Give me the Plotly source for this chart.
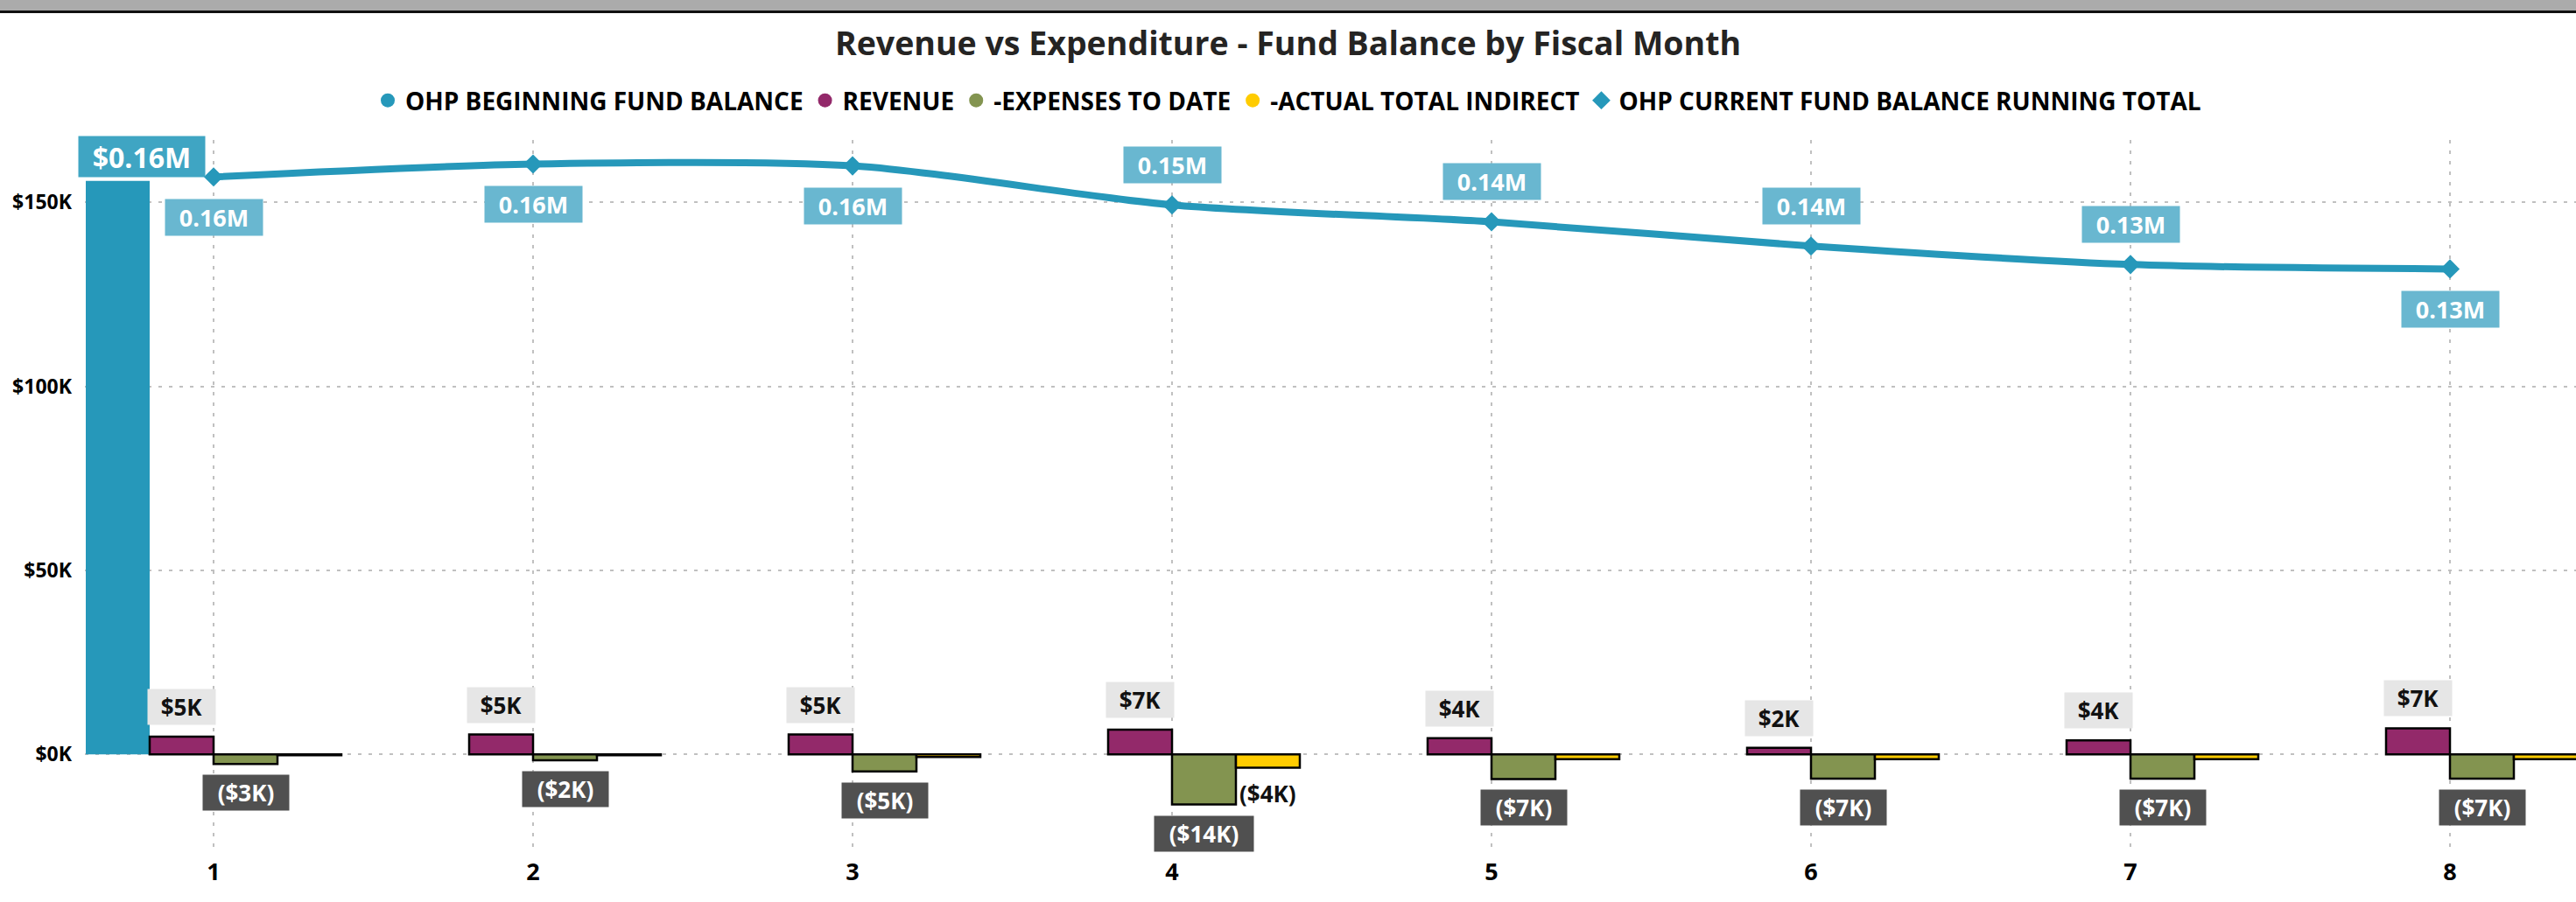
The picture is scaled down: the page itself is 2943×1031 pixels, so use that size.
import plotly.graph_objects as go

# ---------------- data ----------------
months = [1, 2, 3, 4, 5, 6, 7, 8]
month_labels = ["1", "2", "3", "4", "5", "6", "7", "8"]
beginning_balance = [155800, None, None, None, None, None, None, None]
revenue = [4800, 5400, 5400, 6700, 4400, 1800, 3800, 7100]
expenses = [-2600, -1600, -4600, -13600, -6700, -6600, -6600, -6600]
indirect = [-200, -200, -700, -3600, -1300, -1300, -1300, -1300]
running_total = [156900, 160400, 159900, 149300, 144700, 138100, 133100, 131900]
line_label_side = ["below", "below", "below", "above", "above", "above", "above", "below"]
y_tick_vals = [0, 50000, 100000, 150000]
y_tick_text = ["$0K", "$50K", "$100K", "$150K"]

series_names = ["OHP BEGINNING FUND BALANCE", "REVENUE", "-EXPENSES TO DATE",
                "-ACTUAL TOTAL INDIRECT", "OHP CURRENT FUND BALANCE RUNNING TOTAL"]
title_text = "Revenue vs Expenditure - Fund Balance by Fiscal Month"

# ---------------- style ----------------
FONT = "Open Sans"
C_BLUE = "#2698BA"
C_REV = "#93296A"
C_EXP = "#839450"
C_IND = "#FFCC00"
C_LINE_LBL = "#69B7D0"
C_BEGIN_LBL = "#3FA5C3"
GRID = "#C0C0C0"

W, H = 2943, 1031
ML, MR, MT, MB = 97, 0, 160, 61

BARGAP = 0.2
n_bar_traces = 4
slot = (1 - BARGAP) / n_bar_traces
offsets = [-(1 - BARGAP) / 2 + slot * (i + 0.5) for i in range(n_bar_traces)]

fig = go.Figure()

bar_series = [beginning_balance, revenue, expenses, indirect]
bar_colors = [C_BLUE, C_REV, C_EXP, C_IND]
bar_line_w = [0, 2.5, 2.5, 2.5]
for vals, col, lw, name in zip(bar_series, bar_colors, bar_line_w, series_names[:4]):
    fig.add_trace(go.Bar(x=months, y=vals, name=name, marker=dict(color=col, line=dict(color="black", width=lw)),
                         showlegend=False, hoverinfo="skip"))

fig.add_trace(go.Scatter(x=months, y=running_total, mode="lines+markers", name=series_names[4],
                         line=dict(color=C_BLUE, width=8, shape="spline", smoothing=0.8),
                         marker=dict(symbol="diamond", size=17, color=C_BLUE),
                         showlegend=False, hoverinfo="skip"))

# legend-only entries (circle / diamond symbols)
leg_symbols = ["circle", "circle", "circle", "circle", "diamond"]
leg_colors = [C_BLUE, C_REV, C_EXP, C_IND, C_BLUE]
for name, sym, col in zip(series_names, leg_symbols, leg_colors):
    fig.add_trace(go.Scatter(x=[None], y=[None], mode="markers", name=name,
                             marker=dict(symbol=sym, size=16, color=col), showlegend=True))

ann = []
def box(x, y, text, yshift, bg, fcolor, size, width, height, xshift=0):
    d = dict(x=x, y=y, xref="x", yref="y", text=text, showarrow=False, yshift=yshift, xshift=xshift,
             font=dict(family=FONT, size=size, color=fcolor, weight="bold"), xanchor="center", yanchor="middle",
             borderpad=4)
    if bg:
        d.update(bgcolor=bg, width=width, height=height)
    ann.append(d)

# beginning balance label
for m, v in zip(months, beginning_balance):
    if v is not None:
        box(m + offsets[0], v, f"${v/1e6:.2f}M", 28, C_BEGIN_LBL, "white", 32, 136, 38, xshift=27)

# revenue labels
for m, v in zip(months, revenue):
    t = f"${round(v/1000)}K"
    box(m + offsets[1], v, t, 34, "#E6E6E6", "#111111", 26, 15 * len(t) + 24, 32)

# expense labels
for m, v in zip(months, expenses):
    t = f"(${round(-v/1000)}K)"
    box(m + offsets[2], v, t, -33, "#505050", "white", 26, 15 * len(t) + 15, 32)

# indirect labels (only large enough values get a label)
for m, v in zip(months, indirect):
    if -v >= 2000:
        t = f"(${round(-v/1000)}K)"
        box(m + offsets[3], v, t, -30, None, "#111111", 26, 0, 0)

# running total labels
for m, v, side in zip(months, running_total, line_label_side):
    box(m, v, f"{v/1e6:.2f}M", 46 if side == "above" else -46, C_LINE_LBL, "white", 27, 103, 33)

plot_w = W - ML - MR
plot_h = H - MT - MB
cat_px = 365.0
x0 = months[0] - (244 - ML) / cat_px
x1 = x0 + plot_w / cat_px
px_per_unit = 4.207 / 1000.0
y_zero_px = 862.3
y_lo = -(MT + plot_h - y_zero_px) / px_per_unit
y_hi = (y_zero_px - MT) / px_per_unit

def py(pix):
    return (MT + plot_h - pix) / plot_h

shapes = [
    dict(type="rect", xref="paper", yref="paper", x0=-ML / plot_w, x1=1 + 0.01, y0=py(12), y1=py(0),
         fillcolor="#ABABAB", line=dict(width=0), layer="above"),
    dict(type="rect", xref="paper", yref="paper", x0=-ML / plot_w, x1=1 + 0.01, y0=py(15), y1=py(12),
         fillcolor="#111111", line=dict(width=0), layer="above"),
]

fig.update_layout(
    width=W, height=H,
    margin=dict(l=ML, r=MR, t=MT, b=MB, pad=0),
    paper_bgcolor="white", plot_bgcolor="white",
    barmode="group", bargap=BARGAP, bargroupgap=0,
    title=dict(text=title_text, x=0.5, xref="container", xanchor="center",
               y=1 - 50 / H, yref="container", yanchor="middle",
               font=dict(family=FONT, size=37.5, color="#252423", weight="bold")),
    legend=dict(orientation="h", xref="container", yref="container", x=0.5, xanchor="center",
                y=1 - 115 / H, yanchor="middle", font=dict(family=FONT, size=28, color="black", weight="bold"),
                itemwidth=30, tracegroupgap=0, bgcolor="rgba(0,0,0,0)"),
    xaxis=dict(range=[x0, x1], tickvals=months, ticktext=month_labels, showgrid=True, gridcolor=GRID,
               griddash="4px,8px", gridwidth=2, zeroline=False, showline=False, ticks="",
               tickfont=dict(family=FONT, size=27, color="black", weight="bold"), ticklabelstandoff=8),
    yaxis=dict(range=[y_lo, y_hi], tickvals=y_tick_vals, ticktext=y_tick_text, showgrid=True, gridcolor=GRID,
               griddash="4px,8px", gridwidth=2, zeroline=False, showline=False, ticks="",
               tickfont=dict(family=FONT, size=23, color="black", weight="bold"), ticklabelstandoff=14),
    annotations=ann,
    shapes=shapes,
    showlegend=True,
)

fig.write_html("out.html")
